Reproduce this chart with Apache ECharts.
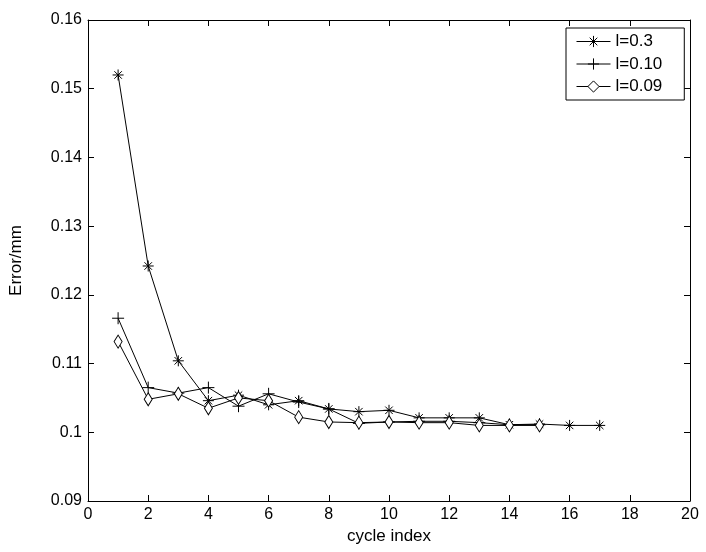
<!DOCTYPE html>
<html>
<head>
<meta charset="utf-8">
<script src="https://cdn.jsdelivr.net/npm/echarts@6/dist/echarts.min.js"></script>
<style>
html,body{margin:0;padding:0;background:#fff;}
#chart{width:706px;height:552px;}
</style>
</head>
<body>
<div id="chart"></div>
<script>
var cycles = [1,2,3,4,5,6,7,8,9,10,11,12,13,14,15,16,17];
var seriesNames = ['l=0.3','l=0.10','l=0.09'];
var l03  = [0.1520,0.1242,0.1104,0.1046,0.1054,0.1040,0.1046,0.1034,0.1030,0.1032,0.1021,0.1021,0.1021,0.1011,0.1012,0.1010,0.1010];
var l010 = [0.1166,0.1065,0.1057,0.1065,0.1038,0.1056,0.1044,0.1034,0.1013,0.1015,0.1016,0.1016,0.1014,0.1011,0.1011];
var l009 = [0.1132,0.1048,0.1056,0.1035,0.1050,0.1046,0.1022,0.1015,0.1014,0.1015,0.1014,0.1014,0.1010,0.1010,0.1010];
var xTicks = [0,2,4,6,8,10,12,14,16,18,20];
var yTicks = [0.09,0.10,0.11,0.12,0.13,0.14,0.15,0.16];

function pairs(vals){ return vals.map(function(v,i){ return [cycles[i], v]; }); }

var FONT = 'Liberation Sans, Arial, sans-serif';
var asterisk = 'path://M5 0 L5 10 M0 5 L10 5 M1.6 1.6 L8.4 8.4 M8.4 1.6 L1.6 8.4';
var plus = 'path://M5 0 L5 10 M0 5 L10 5';

var chart = echarts.init(document.getElementById('chart'), null, {renderer:'canvas'});
var axisLineStyle = {color:'#000', width:1};
function xAxisCfg(pos, showLabel){
  return {
    type:'value', position:pos, min:xTicks[0], max:xTicks[xTicks.length-1], interval:2,
    axisLine:{show:true, onZero:false, lineStyle:axisLineStyle},
    axisTick:{show:true, inside:true, length:6, lineStyle:axisLineStyle},
    axisLabel:{show:showLabel, color:'#000', fontFamily:FONT, fontSize:16, margin:6},
    splitLine:{show:false},
    name: showLabel ? 'cycle index' : '', nameLocation:'middle', nameGap:27,
    nameTextStyle:{color:'#000', fontFamily:FONT, fontSize:17}
  };
}
function yAxisCfg(pos, showLabel){
  return {
    type:'value', position:pos, min:yTicks[0], max:yTicks[yTicks.length-1], interval:0.01,
    axisLine:{show:true, onZero:false, lineStyle:axisLineStyle},
    axisTick:{show:true, inside:true, length:6, lineStyle:axisLineStyle},
    axisLabel:{show:showLabel, color:'#000', fontFamily:FONT, fontSize:16, margin:6,
      formatter:function(v){ return String(Math.round(v*100)/100); }},
    splitLine:{show:false},
    name: showLabel ? 'Error/mm' : '', nameLocation:'middle', nameGap:63,
    nameTextStyle:{color:'#000', fontFamily:FONT, fontSize:17}
  };
}
var lineStyle = {color:'#000', width:1};
chart.setOption({
  backgroundColor:'#fff',
  animation:false,
  grid:{left:84, right:16, top:20, bottom:51},
  xAxis:[xAxisCfg('bottom', true), xAxisCfg('top', false)],
  yAxis:[yAxisCfg('left', true), yAxisCfg('right', false)],
  legend:{
    orient:'vertical', left:566, top:28,
    padding:[5,22,5,10], itemWidth:34, itemHeight:14, itemGap:5.5,
    backgroundColor:'#fff', borderColor:'#000', borderWidth:1,
    lineStyle:{width:1},
    itemStyle:{borderWidth:1},
    textStyle:{color:'#000', fontFamily:FONT, fontSize:17},
    data:seriesNames
  },
  series:[
    {name:seriesNames[0], type:'line', data:pairs(l03), symbol:asterisk, symbolSize:11,
     lineStyle:lineStyle, itemStyle:{color:'#000', borderColor:'#000', borderWidth:1}, z:3},
    {name:seriesNames[1], type:'line', data:pairs(l010), symbol:plus, symbolSize:12,
     lineStyle:lineStyle, itemStyle:{color:'#000', borderColor:'#000', borderWidth:1}, z:2},
    {name:seriesNames[2], type:'line', data:pairs(l009), symbol:'diamond', symbolSize:[8,13],
     lineStyle:lineStyle, itemStyle:{color:'#fff', borderColor:'#000', borderWidth:1}, z:4}
  ]
});
</script>
</body>
</html>
